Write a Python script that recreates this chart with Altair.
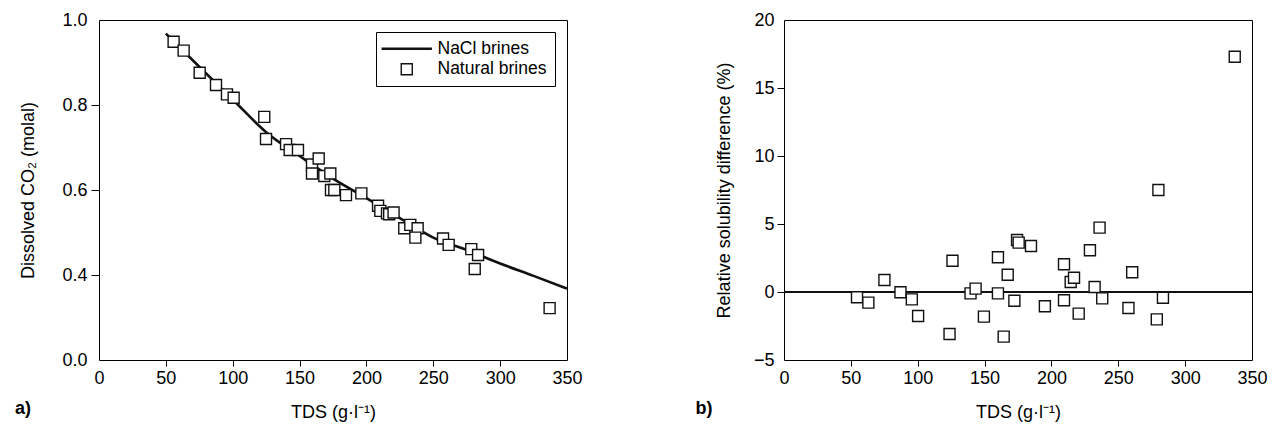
import altair as alt
import pandas as pd

# ---------------- data ----------------
# Panel a: NaCl brine curve (TDS g/l, dissolved CO2 molal)
curve_tds = [50, 75, 100, 125, 150, 175, 200, 225, 250, 275, 300, 325, 350]
curve_co2 = [0.968, 0.890, 0.813, 0.736, 0.680, 0.627, 0.581, 0.534, 0.488, 0.459, 0.427, 0.398, 0.368]

# Panel a: natural brines
nat_tds = [55.8, 63.3, 75.3, 87.5, 95.7, 100.7, 123.6, 124.9, 139.9, 142.6, 148.8, 159.3, 164.3,
           159.3, 168.5, 173.0, 173.5, 176.0, 184.7, 196.2, 208.7, 210.4, 215.4, 217.0, 220.3,
           228.3, 232.8, 238.3, 236.6, 257.3, 261.5, 278.4, 283.5, 281.0, 337.0]
nat_co2 = [0.949, 0.928, 0.876, 0.847, 0.825, 0.817, 0.772, 0.720, 0.708, 0.694, 0.694, 0.660, 0.674,
           0.639, 0.633, 0.639, 0.600, 0.600, 0.588, 0.592, 0.563, 0.551, 0.545, 0.543, 0.547,
           0.510, 0.518, 0.510, 0.488, 0.486, 0.471, 0.461, 0.447, 0.414, 0.322]

# Panel b: relative solubility difference (%)
diff_tds = [54.6, 63.1, 75.1, 87.1, 95.6, 100.3, 123.8, 126.0, 139.5, 143.3, 149.5, 160.0, 160.0,
            164.3, 167.3, 172.3, 174.3, 175.5, 184.7, 195.1, 209.4, 209.4, 214.4, 216.9, 220.4,
            228.8, 232.3, 236.0, 238.0, 257.6, 260.4, 278.8, 280.0, 283.4, 337.1]
diff_pct = [-0.39, -0.78, 0.88, -0.02, -0.54, -1.76, -3.09, 2.30, -0.10, 0.25, -1.81, 2.55, -0.10,
            -3.28, 1.27, -0.64, 3.82, 3.63, 3.38, -1.05, 2.04, -0.61, 0.74, 1.05, -1.59,
            3.07, 0.37, 4.73, -0.47, -1.18, 1.45, -2.01, 7.50, -0.42, 17.3]

series_names = ["NaCl brines", "Natural brines"]
x_ticks = [0, 50, 100, 150, 200, 250, 300, 350]
a_y_ticks = [0.2, 0.4, 0.6, 0.8, 1.0]
b_y_ticks = [-5, 0, 5, 10, 15, 20]
zero_line = [0]

# ---------------- styling ----------------
FONT = "Liberation Sans"
FS = 18
W, H = 468, 340
INK = "#111111"
# thin outlined bar: with a 1.4 px outline it reads as a ~2.5 px solid line in the legend
LINE_SYMBOL = "M-4.45,-0.1H4.45V0.1H-4.45Z"

curve_df = pd.DataFrame({"tds": curve_tds, "co2": curve_co2})
nat_df = pd.DataFrame({"tds": nat_tds, "co2": nat_co2, "series": ["Natural brines"] * len(nat_tds)})
diff_df = pd.DataFrame({"tds": diff_tds, "pct": diff_pct})
zero_df = pd.DataFrame({"v": zero_line})


def x_enc():
    return alt.X(
        "tds:Q",
        scale=alt.Scale(domain=[0, 350], nice=False, zero=False),
        axis=alt.Axis(
            values=x_ticks, title="TDS (g·l⁻¹)", tickSize=6, labelPadding=3, titlePadding=16,
            labelFlush=False, format="d",
            tickOpacity={"condition": {"test": "datum.value == 0 || datum.value == 350", "value": 0}, "value": 1},
        ),
    )


# ---------------- panel a ----------------
ya_axis = alt.Axis(
    values=a_y_ticks, title="Dissolved CO₂ (molal)", tickSize=8, labelPadding=4, titlePadding=24,
    labelExpr="datum.value < 0.3 ? '0.0' : format(datum.value, '.1f')",
    tickOpacity={"condition": {"test": "datum.value < 0.3 || datum.value > 0.99", "value": 0}, "value": 1},
)
ya_scale = alt.Scale(domain=[0.2, 1.0], nice=False, zero=False)

line_a = alt.Chart(curve_df).mark_line(color=INK, strokeWidth=2.6, interpolate="monotone").encode(
    x=x_enc(),
    y=alt.Y("co2:Q", scale=ya_scale, axis=ya_axis),
)

legend = alt.Legend(
    title=None, orient="top-right", offset=12, labelFont=FONT, labelFontSize=17.5, labelColor="black",
    strokeColor="black", fillColor="white", padding=8, rowPadding=1.5,
    symbolSize=121, symbolStrokeWidth=1.4, symbolOffset=14, labelOffset=22,
)
pts_a = alt.Chart(nat_df).mark_point(stroke=INK, fill="white", strokeWidth=1.4, size=121, opacity=1).encode(
    x=x_enc(),
    y=alt.Y("co2:Q", scale=ya_scale, axis=ya_axis),
    shape=alt.Shape("series:N", scale=alt.Scale(domain=series_names, range=[LINE_SYMBOL, "square"]),
                    legend=legend),
)

panel_a = alt.layer(line_a, pts_a).properties(
    width=W, height=H,
    title=alt.TitleParams("a)", orient="bottom", anchor="start", fontSize=18, fontWeight="bold",
                          font=FONT, color="black", dx=-5, offset=-21),
)

# ---------------- panel b ----------------
yb_axis = alt.Axis(
    values=b_y_ticks, title="Relative solubility difference (%)", tickSize=7, labelPadding=3, titlePadding=20,
    tickOpacity={"condition": {"test": "datum.value == -5 || datum.value == 20", "value": 0}, "value": 1},
)
yb_scale = alt.Scale(domain=[-5, 20], nice=False, zero=False)

rule_b = alt.Chart(zero_df).mark_rule(color=INK, strokeWidth=2).encode(
    y=alt.Y("v:Q", scale=yb_scale, axis=yb_axis),
)
pts_b = alt.Chart(diff_df).mark_point(shape="square", size=121, stroke=INK, fill="white",
                                      strokeWidth=1.4, opacity=1).encode(
    x=x_enc(),
    y=alt.Y("pct:Q", scale=yb_scale, axis=yb_axis),
)

panel_b = alt.layer(rule_b, pts_b).properties(
    width=W, height=H,
    title=alt.TitleParams("b)", orient="bottom", anchor="start", fontSize=18, fontWeight="bold",
                          font=FONT, color="black", dx=-20, offset=-21),
)

chart = alt.hconcat(panel_a, panel_b, spacing=111).resolve_scale(
    shape="independent"
).resolve_legend(
    shape="independent"
).properties(
    padding={"left": 14, "top": 10, "right": 5, "bottom": 0},
    background="white",
).configure_view(
    stroke="black", strokeWidth=1,
).configure_axis(
    labelFont=FONT, titleFont=FONT, labelFontSize=FS, titleFontSize=FS,
    labelColor="black", titleColor="black", titleFontWeight="normal",
    tickColor="black", tickWidth=1, grid=False, domain=False,
)

chart.save("out.html", embed_options={"renderer": "svg", "actions": False})
